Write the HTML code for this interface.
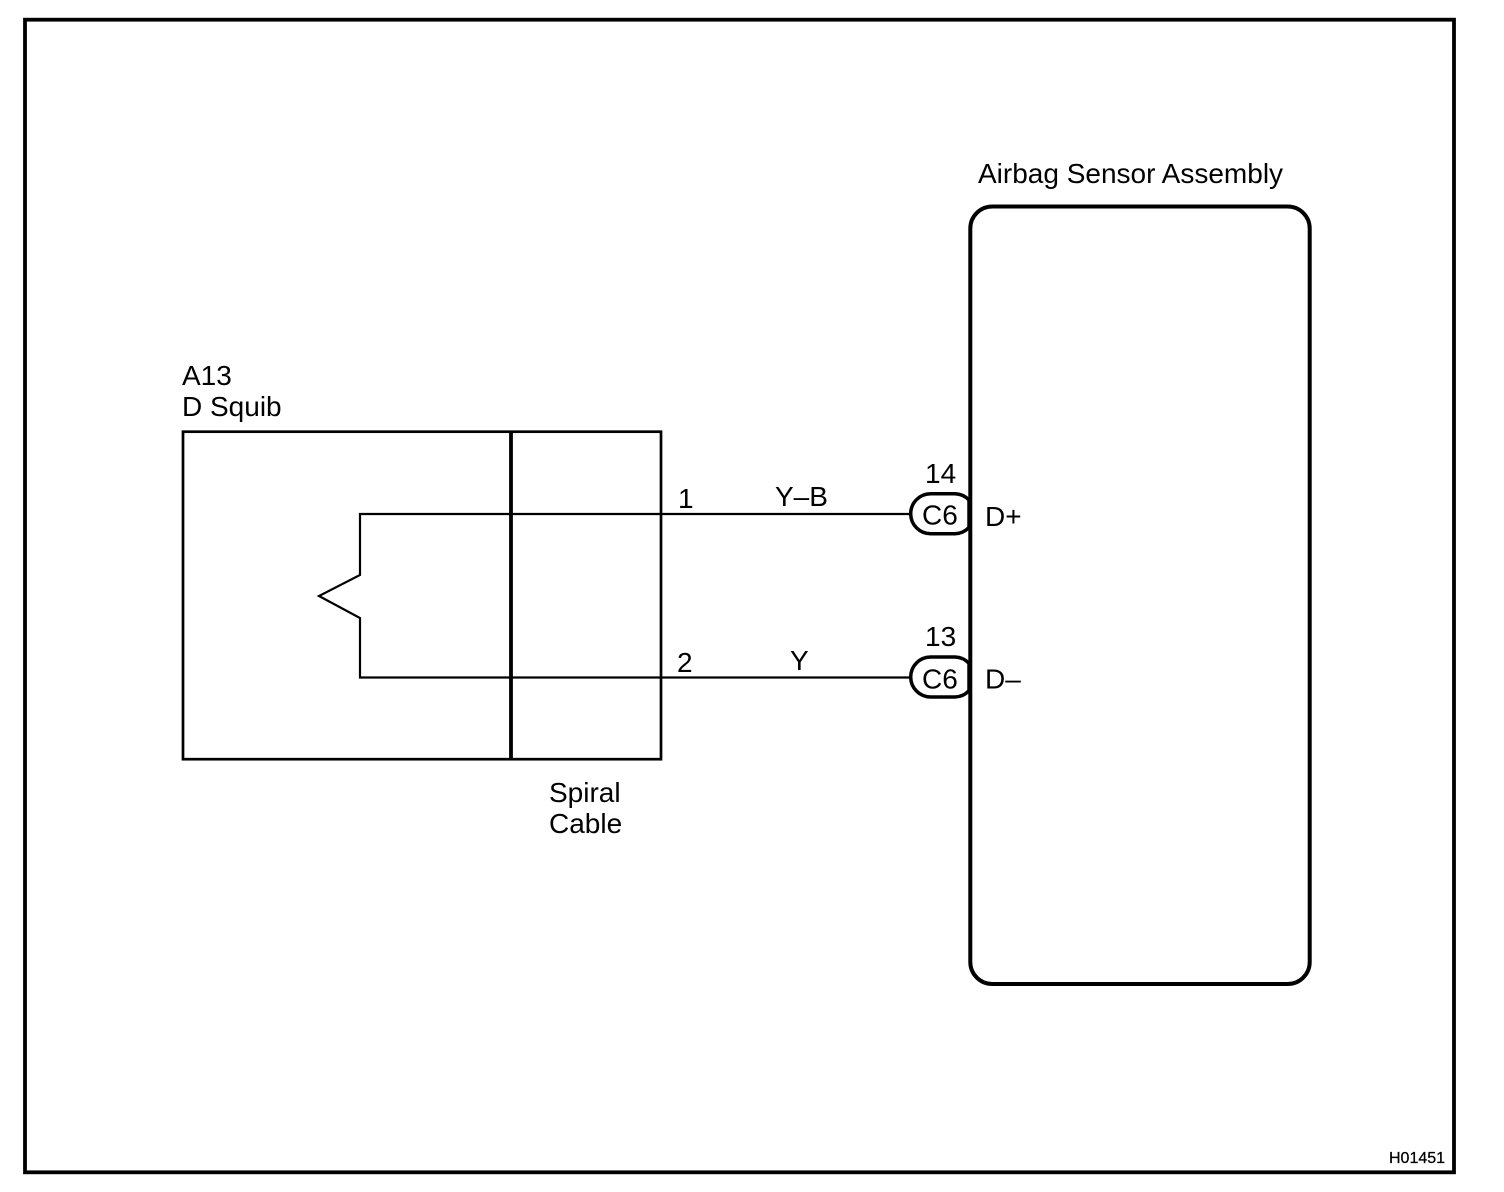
<!DOCTYPE html>
<html>
<head>
<meta charset="utf-8">
<style>
html,body{margin:0;padding:0;background:#fff;}
svg{display:block;}
text{font-family:"Liberation Sans",sans-serif;fill:#000;font-size:28px;}
</style>
</head>
<body>
<svg width="1504" height="1192" viewBox="0 0 1504 1192" xmlns="http://www.w3.org/2000/svg">
<rect x="25" y="19.7" width="1429" height="1152.6" fill="none" stroke="#000" stroke-width="3.8"/>
<rect x="183" y="431.7" width="478" height="327.5" fill="none" stroke="#000" stroke-width="2.7"/>
<line x1="511" y1="432" x2="511" y2="759" stroke="#000" stroke-width="3.8"/>
<path d="M911 514H360V575L319 596L360 618V677.5H911" fill="none" stroke="#000" stroke-width="2.2"/>
<path d="M969 500A20 20 0 0 0 955 493.7H930.7A20 20 0 0 0 930.7 533.7H955A20 20 0 0 0 969 527.4Z" fill="#fff" stroke="#000" stroke-width="3.5"/>
<path d="M969 663.3A20 20 0 0 0 955 657H930.7A20 20 0 0 0 930.7 697H955A20 20 0 0 0 969 690.7Z" fill="#fff" stroke="#000" stroke-width="3.5"/>
<rect x="970.3" y="206.5" width="339.4" height="777.5" rx="22" ry="22" fill="none" stroke="#000" stroke-width="4"/>
<text x="978" y="183">Airbag Sensor Assembly</text>
<text x="182" y="385">A13</text>
<text x="182" y="416">D Squib</text>
<text x="549" y="802">Spiral</text>
<text x="549" y="833">Cable</text>
<text x="678" y="508">1</text>
<text x="677" y="672">2</text>
<text x="775" y="506">Y–B</text>
<text x="790" y="670">Y</text>
<text x="925" y="483">14</text>
<text x="925" y="646">13</text>
<text x="922" y="524.5">C6</text>
<text x="922" y="688.5">C6</text>
<text x="985" y="526">D+</text>
<text x="985" y="688.5">D–</text>
<text x="1389" y="1163" style="font-size:16px;stroke:#000;stroke-width:0.25">H01451</text>
</svg>
</body>
</html>
